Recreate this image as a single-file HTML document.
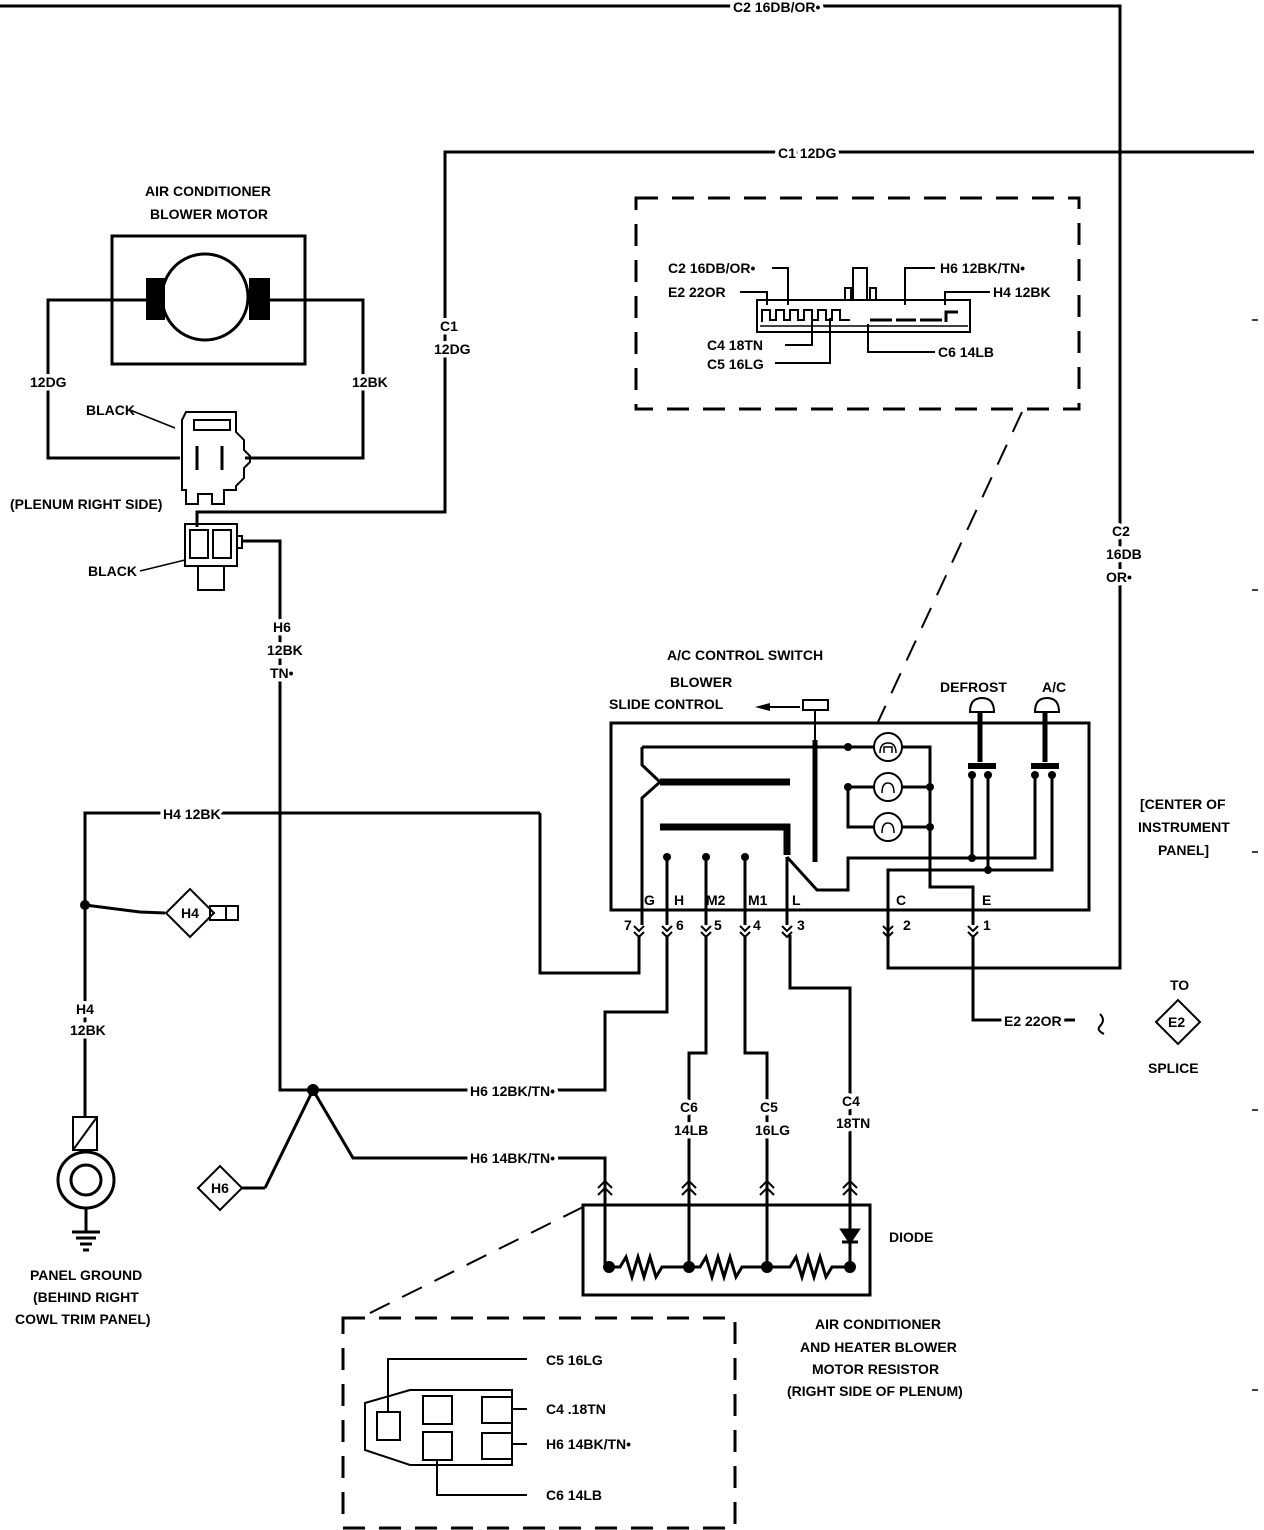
<!DOCTYPE html>
<html><head><meta charset="utf-8"><style>
html,body{margin:0;padding:0;background:#fff;}
svg{display:block;}
text{font-family:"Liberation Sans",sans-serif;font-weight:bold;font-size:14px;fill:#000;}
.h{paint-order:stroke;stroke:#fff;stroke-width:7px;stroke-linejoin:round;}
</style></head><body>
<svg width="1264" height="1530" viewBox="0 0 1264 1530" xmlns="http://www.w3.org/2000/svg">
<g fill="none" stroke="#000" stroke-width="3">
<polyline points="0,6 1120,6 1120,968 888,968 888,870"/>
<polyline points="1254,152 445,152 445,512 197,512 197,527"/>
<rect x="112" y="236" width="193" height="128"/>
<circle cx="205" cy="297" r="43"/>
<polyline points="146,300 48,300 48,458 180,458"/>
<polyline points="270,300 363,300 363,458 245,458"/>
<path d="M186,412 h50 v20 l8,8 v10 l6,6 v6 l-6,6 v10 l-8,8 v4 h-12 v14 h-12 v-10 h-14 v10 h-12 v-14 h-4 v-70 z" stroke-width="2"/>
<rect x="194" y="420" width="36" height="10" stroke-width="2"/>
<line x1="197" y1="446" x2="197" y2="470" stroke-width="3"/>
<line x1="222" y1="446" x2="222" y2="470" stroke-width="3"/>
<line x1="130" y1="410" x2="175" y2="428" stroke-width="1.5"/>
<rect x="185" y="524" width="52" height="42" stroke-width="2"/>
<rect x="190" y="530" width="18" height="28" stroke-width="2"/>
<rect x="213" y="530" width="18" height="28" stroke-width="2"/>
<path d="M237,536 h5 v12 h-5" stroke-width="2"/>
<rect x="198" y="566" width="26" height="24" stroke-width="2"/>
<polyline points="243,541 280,541 280,1090 605,1090 605,1012 667,1012 667,935"/>
<line x1="140" y1="571" x2="185" y2="560" stroke-width="1.5"/>
<polyline points="265,1188 313,1090 353,1158 605,1158 605,1268"/>
<path d="M198,1188 L220,1166 L242,1188 L220,1210 Z" stroke-width="2"/>
<line x1="242" y1="1188" x2="265" y2="1188"/>
<polyline points="540,813 540,973 639,973 639,935"/>
<polyline points="540,813 85,813 85,1117"/>
<polyline points="85,905 140,912 165,913"/>
<path d="M166,913 L190,889 L214,913 L190,937 Z" stroke-width="2"/>
<rect x="210" y="906" width="28" height="14" stroke-width="2"/>
<line x1="226" y1="906" x2="226" y2="920" stroke-width="2"/>
<rect x="73" y="1117" width="24" height="33" stroke-width="2"/>
<line x1="73" y1="1150" x2="97" y2="1117" stroke-width="2"/>
<circle cx="86" cy="1180" r="28"/>
<circle cx="86" cy="1180" r="15"/>
<line x1="86" y1="1208" x2="86" y2="1232"/>
<line x1="72" y1="1232" x2="100" y2="1232"/>
<line x1="76" y1="1238" x2="96" y2="1238"/>
<line x1="80" y1="1244" x2="92" y2="1244"/>
<line x1="83" y1="1250" x2="89" y2="1250"/>
<rect x="611" y="723" width="478" height="187"/>
<polyline points="642,747 642,765 660,782 642,798 642,925"/>
<line x1="660" y1="782" x2="790" y2="782" stroke-width="7"/>
<polyline points="660,827 787,827 787,855" stroke-width="7"/>
<polyline points="642,747 875,747"/>
<polyline points="901,747 930,747 930,887 973,887 973,925"/>
<polyline points="875,787 848,787 848,827 875,827"/>
<line x1="901" y1="787" x2="930" y2="787"/>
<line x1="901" y1="827" x2="930" y2="827"/>
<circle cx="888" cy="747" r="14" stroke-width="2"/>
<circle cx="888" cy="787" r="14" stroke-width="2"/>
<circle cx="888" cy="827" r="14" stroke-width="2"/>
<path d="M880,753 q0,-10 8,-10 q8,0 8,10 M884,753 v-6 h8 v6 M882,793 q0,-10 6,-10 q6,0 6,10 M882,833 q0,-10 6,-10 q6,0 6,10" stroke-width="1.5"/>
<polyline points="787,857 817,890 848,890 848,858 1035,858 1035,775"/>
<polyline points="888,925 888,870 1052,870 1052,775"/>
<line x1="972" y1="775" x2="972" y2="858"/>
<line x1="988" y1="775" x2="988" y2="870"/>
<line x1="667" y1="857" x2="667" y2="925"/>
<line x1="706" y1="857" x2="706" y2="925"/>
<line x1="745" y1="857" x2="745" y2="925"/>
<line x1="787" y1="857" x2="787" y2="925"/>
<rect x="803" y="700" width="25" height="10" stroke-width="2"/>
<line x1="815" y1="710" x2="815" y2="740" stroke-width="2"/>
<line x1="815" y1="740" x2="815" y2="862" stroke-width="5"/>
<line x1="800" y1="707" x2="770" y2="707" stroke-width="2"/>
<path d="M970,712 q0,-14 12,-14 q12,0 12,14 z" stroke-width="2"/>
<line x1="980" y1="712" x2="980" y2="762" stroke-width="5"/>
<line x1="968" y1="766" x2="996" y2="766" stroke-width="6"/>
<path d="M1035,712 q0,-14 12,-14 q12,0 12,14 z" stroke-width="2"/>
<line x1="1045" y1="712" x2="1045" y2="762" stroke-width="5"/>
<line x1="1031" y1="766" x2="1059" y2="766" stroke-width="6"/>
<polyline points="706,935 706,1053 689,1053 689,1267"/>
<polyline points="745,935 745,1053 767,1053 767,1267"/>
<polyline points="790,935 790,988 850,988 850,1267"/>
<polyline points="973,935 973,1020 1075,1020"/>
<path d="M1100,1014 q6,6 0,12 q-4,4 4,8" stroke-width="2"/>
<path d="M1156,1022 L1178,1000 L1200,1022 L1178,1044 Z" stroke-width="2"/>
<g stroke-width="2">
<path d="M634,926 l5,5 l5,-5 M634,932 l5,5 l5,-5"/>
<path d="M662,926 l5,5 l5,-5 M662,932 l5,5 l5,-5"/>
<path d="M701,926 l5,5 l5,-5 M701,932 l5,5 l5,-5"/>
<path d="M740,926 l5,5 l5,-5 M740,932 l5,5 l5,-5"/>
<path d="M782,926 l5,5 l5,-5 M782,932 l5,5 l5,-5"/>
<path d="M883,926 l5,5 l5,-5 M883,932 l5,5 l5,-5"/>
<path d="M968,926 l5,5 l5,-5 M968,932 l5,5 l5,-5"/>
<path d="M598,1188 l7,-7 l7,7 M598,1195 l7,-7 l7,7"/>
<path d="M682,1188 l7,-7 l7,7 M682,1195 l7,-7 l7,7"/>
<path d="M760,1188 l7,-7 l7,7 M760,1195 l7,-7 l7,7"/>
<path d="M843,1188 l7,-7 l7,7 M843,1195 l7,-7 l7,7"/>
</g>
<rect x="583" y="1205" width="287" height="90"/>
<polyline points="609,1267 620,1267 626,1257 632,1277 638,1257 644,1277 650,1257 656,1277 662,1267 689,1267"/>
<polyline points="689,1267 700,1267 706,1257 712,1277 718,1257 724,1277 730,1257 736,1277 742,1267 767,1267"/>
<polyline points="767,1267 790,1267 796,1257 802,1277 808,1257 814,1277 820,1257 826,1277 832,1267 850,1267"/>
<path d="M842,1230 h16 l-8,12 z" fill="#000"/>
<line x1="842" y1="1242" x2="858" y2="1242" stroke-width="3"/>
<rect x="636" y="198" width="443" height="211" stroke-dasharray="22,14"/>
<line x1="1022" y1="412" x2="878" y2="722" stroke-dasharray="22,14" stroke-width="2"/>
<rect x="343" y="1318" width="392" height="210" stroke-dasharray="22,14"/>
<line x1="583" y1="1207" x2="360" y2="1318" stroke-dasharray="22,14" stroke-width="2"/>
<rect x="757" y="300" width="213" height="32" stroke-width="2"/>
<line x1="760" y1="326" x2="968" y2="326" stroke-width="1.5"/>
<path d="M762,322 v-12 h8 v10 h6 v-10 h8 v10 h6 v-10 h8 v10 h6 v-10 h8 v10 h6 v-10 h8 v10 h6 v-10 h8 v10 h10 M845,300 v-12 h6 v12 M853,300 v-32 h14 v32 M870,300 v-12 h6 v12" stroke-width="2"/>
<path d="M870,320 h22 M896,320 h20 M920,320 h22 M946,322 v-10 h12" stroke-width="3"/>
<polyline points="772,268 788,268 788,305" stroke-width="2"/>
<polyline points="740,292 767,292 767,305" stroke-width="2"/>
<polyline points="935,268 905,268 905,305" stroke-width="2"/>
<polyline points="990,292 945,292 945,305" stroke-width="2"/>
<polyline points="785,345 812,345 812,318" stroke-width="2"/>
<polyline points="775,363 830,363 830,318" stroke-width="2"/>
<polyline points="935,352 868,352 868,324" stroke-width="2"/>
<path d="M365,1403 L410,1390 L512,1390 L512,1465 L410,1465 L365,1450 Z" stroke-width="2"/>
<rect x="377" y="1412" width="23" height="28" stroke-width="2"/>
<rect x="423" y="1396" width="29" height="28" stroke-width="2"/>
<rect x="482" y="1397" width="30" height="26" stroke-width="2"/>
<rect x="423" y="1432" width="29" height="28" stroke-width="2"/>
<rect x="482" y="1433" width="30" height="26" stroke-width="2"/>
<polyline points="388,1412 388,1359 527,1359" stroke-width="2"/>
<line x1="512" y1="1409" x2="527" y2="1409" stroke-width="2"/>
<line x1="512" y1="1444" x2="527" y2="1444" stroke-width="2"/>
<polyline points="437,1460 437,1495 527,1495" stroke-width="2"/>
<g stroke-width="1.5"><line x1="1252" y1="320" x2="1258" y2="320"/><line x1="1252" y1="590" x2="1258" y2="590"/><line x1="1252" y1="852" x2="1258" y2="852"/><line x1="1252" y1="1110" x2="1258" y2="1110"/><line x1="1252" y1="1390" x2="1258" y2="1390"/></g>
</g>
<g fill="#000">
<rect x="146" y="278" width="19" height="42"/>
<rect x="249" y="278" width="21" height="42"/>
<circle cx="85" cy="905" r="5"/>
<circle cx="313" cy="1090" r="6"/>
<circle cx="848" cy="747" r="4"/><circle cx="848" cy="787" r="4"/>
<circle cx="930" cy="787" r="4"/><circle cx="930" cy="827" r="4"/>
<circle cx="667" cy="857" r="4"/><circle cx="706" cy="857" r="4"/><circle cx="745" cy="857" r="4"/>
<circle cx="972" cy="775" r="4"/><circle cx="988" cy="775" r="4"/><circle cx="1035" cy="775" r="4"/><circle cx="1052" cy="775" r="4"/>
<circle cx="972" cy="858" r="4"/><circle cx="988" cy="870" r="4"/>
<circle cx="609" cy="1267" r="6"/><circle cx="689" cy="1267" r="6"/><circle cx="767" cy="1267" r="6"/><circle cx="850" cy="1267" r="6"/>
<path d="M755,707 l15,-4 v8 z"/>
</g>
<text class="h" x="733" y="12">C2 16DB/OR•</text>
<text class="h" x="778" y="158">C1 12DG</text>
<text class="h" x="440" y="331">C1</text>
<text class="h" x="434" y="354">12DG</text>
<text x="145" y="196">AIR CONDITIONER</text>
<text x="150" y="219">BLOWER MOTOR</text>
<text class="h" x="30" y="387">12DG</text>
<text class="h" x="352" y="387">12BK</text>
<text x="86" y="415">BLACK</text>
<text x="10" y="509">(PLENUM RIGHT SIDE)</text>
<text x="88" y="576">BLACK</text>
<text class="h" x="273" y="632">H6</text>
<text class="h" x="267" y="655">12BK</text>
<text class="h" x="270" y="678">TN•</text>
<text class="h" x="1112" y="536">C2</text>
<text class="h" x="1106" y="559">16DB</text>
<text class="h" x="1106" y="582">OR•</text>
<text x="667" y="660">A/C CONTROL SWITCH</text>
<text x="670" y="687">BLOWER</text>
<text x="609" y="709">SLIDE CONTROL</text>
<text x="940" y="692">DEFROST</text>
<text x="1042" y="692">A/C</text>
<text x="1140" y="809">[CENTER OF</text>
<text x="1138" y="832">INSTRUMENT</text>
<text x="1158" y="855">PANEL]</text>
<text class="h" x="163" y="819">H4 12BK</text>
<text class="h" x="76" y="1014">H4</text>
<text class="h" x="70" y="1035">12BK</text>
<text x="181" y="918" font-size="12">H4</text>
<text x="211" y="1193" font-size="12">H6</text>
<text x="30" y="1280">PANEL GROUND</text>
<text x="33" y="1302">(BEHIND RIGHT</text>
<text x="15" y="1324">COWL TRIM PANEL)</text>
<text x="644" y="905">G</text><text x="674" y="905">H</text><text x="706" y="905">M2</text><text x="748" y="905">M1</text><text x="792" y="905">L</text><text x="896" y="905">C</text><text x="982" y="905">E</text>
<text x="624" y="930">7</text><text x="676" y="930">6</text><text x="714" y="930">5</text><text x="753" y="930">4</text><text x="797" y="930">3</text><text x="903" y="930">2</text><text x="983" y="930">1</text>
<text class="h" x="1004" y="1026">E2 22OR</text>
<text x="1170" y="990">TO</text>
<text x="1168" y="1027" font-size="12">E2</text>
<text x="1148" y="1073">SPLICE</text>
<text class="h" x="470" y="1096">H6 12BK/TN•</text>
<text class="h" x="470" y="1163">H6 14BK/TN•</text>
<text class="h" x="680" y="1112">C6</text>
<text class="h" x="674" y="1135">14LB</text>
<text class="h" x="760" y="1112">C5</text>
<text class="h" x="755" y="1135">16LG</text>
<text class="h" x="842" y="1106">C4</text>
<text class="h" x="836" y="1128">18TN</text>
<text x="889" y="1242">DIODE</text>
<text x="815" y="1329">AIR CONDITIONER</text>
<text x="800" y="1352">AND HEATER BLOWER</text>
<text x="812" y="1374">MOTOR RESISTOR</text>
<text x="787" y="1396">(RIGHT SIDE OF PLENUM)</text>
<text x="668" y="273">C2 16DB/OR•</text>
<text x="668" y="297">E2 22OR</text>
<text x="940" y="273">H6 12BK/TN•</text>
<text x="993" y="297">H4 12BK</text>
<text x="707" y="350">C4 18TN</text>
<text x="707" y="369">C5 16LG</text>
<text x="938" y="357">C6 14LB</text>
<text x="546" y="1365">C5 16LG</text>
<text x="546" y="1414">C4 .18TN</text>
<text x="546" y="1449">H6 14BK/TN•</text>
<text x="546" y="1500">C6 14LB</text>
</svg>
</body></html>
